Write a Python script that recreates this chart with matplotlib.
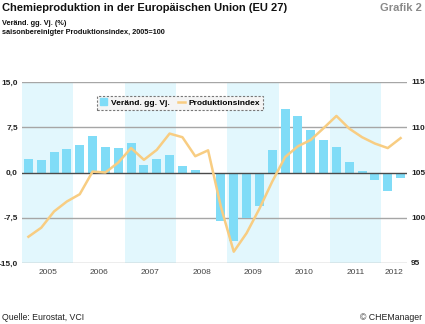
import numpy as np
import matplotlib.pyplot as plt
from matplotlib.lines import Line2D
from matplotlib.patches import Patch

plt.rcParams['font.family'] = ['Liberation Sans', 'DejaVu Sans']

# Quarterly data 2005 Q1 .. 2012 Q2
change = [2.2, 2.1, 3.4, 3.9,
          4.6, 6.1, 4.2, 4.1,
          4.85, 1.2, 2.3, 2.9,
          1.1, 0.35, 0.0, -8.0,
          -11.3, -7.5, -5.5, 3.7,
          10.5, 9.4, 7.1, 5.35,
          4.2, 1.8, 0.2, -1.3,
          -3.0, -0.9]
index = [97.9, 98.9, 100.7, 101.8,
         102.6, 105.1, 105.0, 106.1,
         107.7, 106.4, 107.5, 109.3,
         108.9, 106.8, 107.45, 101.2,
         96.25, 98.3, 101.0, 104.0,
         106.7, 107.9, 108.6, 109.9,
         111.25, 109.85, 108.9, 108.2,
         107.7, 108.8]
years = ['2005', '2006', '2007', '2008', '2009', '2010', '2011', '2012']
year_pos = [1.5, 5.5, 9.5, 13.5, 17.5, 21.5, 25.5, 28.5]
left_ticks = [-15, -7.5, 0, 7.5, 15]
left_labels = ['-15,0', '-7,5', '0,0', '7,5', '15,0']
right_ticks = [95, 100, 105, 110, 115]

bar_col = '#80dcf7'
band_col = '#e2f7fd'
line_col = '#f8cd82'

fig = plt.figure(figsize=(4.25, 3.24), dpi=100)
ax = fig.add_axes([22/425, 1-263/324, 385/425, 181/324])
x = np.arange(len(change))

for start in [0, 8, 16, 24]:
    ax.axvspan(start - 0.5, start + 3.5, color=band_col, lw=0, zorder=0)
for v in left_ticks:
    if v == 0:
        continue
    ax.axhline(v, color='#a6a6a6', lw=1.0, zorder=1)
ax.bar(x, change, width=0.7, color=bar_col, zorder=2)
ax.axhline(0, color='#4a4a4a', lw=1.0, zorder=3)
ax.set_xlim(-0.5, 29.5)
ax.set_ylim(-15, 15)
ax.set_yticks(left_ticks)
ax.set_yticklabels(left_labels, fontsize=6, fontweight='bold', color='#222')
ax.set_xticks(year_pos)
ax.set_xticklabels(years, fontsize=6, color='#444')
ax.tick_params(length=0, pad=4)
ax.tick_params(axis='y', pad=3)
for s in ax.spines.values():
    s.set_visible(False)

ax2 = ax.twinx()
ax2.plot(x, index, color=line_col, lw=1.8, zorder=4)
ax2.set_ylim(95, 115)
ax2.set_yticks(right_ticks)
ax2.set_yticklabels([str(t) for t in right_ticks], fontsize=6, fontweight='bold', color='#222')
ax2.tick_params(length=0, pad=3)
for s in ax2.spines.values():
    s.set_visible(False)

handles = [Patch(color=bar_col), Line2D([], [], color=line_col, lw=1.8)]
leg = ax2.legend(handles, ['Veränd. gg. Vj.', 'Produktionsindex'], ncol=2,
                 loc='upper left', bbox_to_anchor=(0.195, 0.925),
                 prop={'size': 6, 'weight': 'bold'}, frameon=True, fancybox=False,
                 handlelength=0.8, handleheight=0.9, handletextpad=0.5,
                 columnspacing=1.0, borderpad=0.35, borderaxespad=0)
frame = leg.get_frame()
frame.set_facecolor('#f4f4f4')
frame.set_edgecolor('#777777')
frame.set_linestyle((0, (2, 1.5)))
frame.set_linewidth(0.8)
frame.set_alpha(1)

fig.text(2/425, 1-3/324, 'Chemieproduktion in der Europäischen Union (EU 27)',
         fontsize=8, fontweight='bold', va='top', ha='left', color='#111')
fig.text(422/425, 1-3/324, 'Grafik 2', fontsize=8, fontweight='bold',
         va='top', ha='right', color='#8a8a8a')
fig.text(2/425, 1-20/324, 'Veränd. gg. Vj. (%)', fontsize=5.3, fontweight='bold',
         va='top', ha='left', color='#111')
fig.text(2/425, 1-29/324, 'saisonbereinigter Produktionsindex, 2005=100', fontsize=5.3,
         fontweight='bold', va='top', ha='left', color='#111')
fig.text(2/425, 1-318/324, 'Quelle: Eurostat, VCI', fontsize=6.3, va='center',
         ha='left', color='#222')
fig.text(422/425, 1-318/324, '© CHEManager', fontsize=6.3, va='center',
         ha='right', color='#222')

fig.savefig('out.png', dpi=100)
